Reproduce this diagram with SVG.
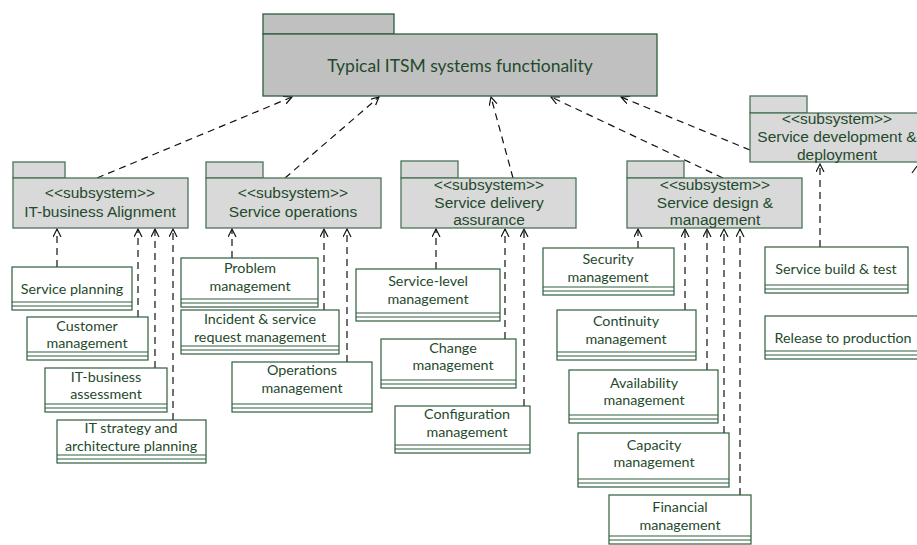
<svg xmlns="http://www.w3.org/2000/svg" width="917" height="545" viewBox="0 0 917 545">
<style>
.pkg{fill:#c0c0c0;stroke:#2e5e3e;stroke-width:1.3}
.sub{fill:#d9d9d9;stroke:#4a7358;stroke-width:1.3}
.box{fill:#fff;stroke:#2e5e3e;stroke-width:1.2}
.bl{stroke:#2e5e3e;stroke-width:1.1;fill:none}
.t{font-family:Lato,"Open Sans",sans-serif;font-size:14.3px;fill:#1f4a2c;text-anchor:middle}
.st{font-family:"Liberation Sans",Arial,sans-serif;font-size:15.5px;fill:#1f4a2c;text-anchor:middle}
.title{font-family:Lato,"Open Sans",sans-serif;font-size:17.5px;fill:#1f4a2c;text-anchor:middle}
.c{stroke:#111;stroke-width:1.2;fill:none;stroke-dasharray:7 5;marker-end:url(#ah)}
</style>
<defs>
<marker id="ah" markerWidth="10" markerHeight="10" refX="8" refY="4" orient="auto" markerUnits="userSpaceOnUse">
<path d="M0,0 L8,4 L0,8" fill="none" stroke="#111" stroke-width="1.2"/>
</marker>
</defs>

<g id="connectors">
<line class="c" x1="97" y1="178" x2="292" y2="97"/>
<line class="c" x1="285" y1="178" x2="379" y2="97"/>
<line class="c" x1="513" y1="178" x2="491" y2="97"/>
<line class="c" x1="723" y1="178" x2="551" y2="97"/>
<line class="c" x1="750" y1="150" x2="621" y2="97"/>
<line class="c" x1="57" y1="267" x2="57" y2="229"/>
<line class="c" x1="138" y1="317" x2="138" y2="229"/>
<line class="c" x1="155" y1="368" x2="155" y2="229"/>
<line class="c" x1="173" y1="420" x2="173" y2="229"/>
<line class="c" x1="232" y1="258" x2="232" y2="229"/>
<line class="c" x1="324" y1="310" x2="324" y2="229"/>
<line class="c" x1="347" y1="362" x2="347" y2="229"/>
<line class="c" x1="436" y1="269" x2="436" y2="229"/>
<line class="c" x1="505" y1="339" x2="505" y2="229"/>
<line class="c" x1="524" y1="406" x2="524" y2="229"/>
<line class="c" x1="638" y1="248" x2="638" y2="229"/>
<line class="c" x1="685" y1="310" x2="685" y2="229"/>
<line class="c" x1="707" y1="370" x2="707" y2="229"/>
<line class="c" x1="724" y1="433" x2="724" y2="229"/>
<line class="c" x1="740" y1="495" x2="740" y2="229"/>
<line class="c" x1="820" y1="247" x2="820" y2="164"/>
<line x1="912" y1="173" x2="917" y2="166" stroke="#111" stroke-width="1.2"/>
</g>

<g id="itsm">
<rect class="pkg" x="263" y="14" width="131" height="20"/>
<rect class="pkg" x="263" y="34" width="394" height="62"/>
<text class="title" x="460" y="72">Typical ITSM systems functionality</text>
</g>

<g id="sub-alignment">
<rect class="sub" x="13" y="162" width="52" height="16"/>
<rect class="sub" x="13" y="178" width="175" height="50"/>
<text class="st" x="100" y="198">&lt;&lt;subsystem&gt;&gt;</text>
<text class="st" x="100" y="217">IT-business Alignment</text>
</g>

<g id="sub-operations">
<rect class="sub" x="206" y="162" width="57" height="16"/>
<rect class="sub" x="206" y="178" width="175" height="50"/>
<text class="st" x="293" y="198">&lt;&lt;subsystem&gt;&gt;</text>
<text class="st" x="293" y="217">Service operations</text>
</g>

<g id="sub-delivery">
<rect class="sub" x="401" y="161" width="57" height="17"/>
<rect class="sub" x="401" y="178" width="175" height="50"/>
<text class="st" x="489" y="190">&lt;&lt;subsystem&gt;&gt;</text>
<text class="st" x="489" y="208">Service delivery</text>
<text class="st" x="489" y="225">assurance</text>
</g>

<g id="sub-design">
<rect class="sub" x="627" y="161" width="57" height="17"/>
<rect class="sub" x="627" y="178" width="175" height="50"/>
<text class="st" x="715" y="190">&lt;&lt;subsystem&gt;&gt;</text>
<text class="st" x="715" y="208">Service design &amp;</text>
<text class="st" x="715" y="225">management</text>
</g>

<g id="sub-development">
<rect class="sub" x="750" y="96" width="57" height="17"/>
<rect class="sub" x="750" y="113" width="175" height="49"/>
<text class="st" x="837" y="124">&lt;&lt;subsystem&gt;&gt;</text>
<text class="st" x="837" y="142">Service development &amp;</text>
<text class="st" x="837" y="160">deployment</text>
</g>

<g id="service-planning">
<rect class="box" x="12" y="267" width="120" height="43"/>
<path class="bl" d="M12,302H132M12,306H132"/>
<text class="t" x="72" y="294">Service planning</text>
</g>
<g id="customer-management">
<rect class="box" x="27" y="317" width="121" height="43"/>
<path class="bl" d="M27,352H148M27,356H148"/>
<text class="t" x="87" y="331">Customer</text>
<text class="t" x="87" y="348">management</text>
</g>
<g id="it-business-assessment">
<rect class="box" x="45" y="368" width="122" height="44"/>
<path class="bl" d="M45,404H167M45,408H167"/>
<text class="t" x="106" y="382">IT-business</text>
<text class="t" x="106" y="399">assessment</text>
</g>
<g id="it-strategy">
<rect class="box" x="57" y="420" width="149" height="43"/>
<path class="bl" d="M57,455H206M57,459H206"/>
<text class="t" x="131" y="433">IT strategy and</text>
<text class="t" x="131" y="451">architecture planning</text>
</g>

<g id="problem-management">
<rect class="box" x="181" y="258" width="137" height="49"/>
<path class="bl" d="M181,299H318M181,303H318"/>
<text class="t" x="250" y="273">Problem</text>
<text class="t" x="250" y="291">management</text>
</g>
<g id="incident-management">
<rect class="box" x="181" y="310" width="158" height="44"/>
<path class="bl" d="M181,346H339M181,350H339"/>
<text class="t" x="260" y="324">Incident &amp; service</text>
<text class="t" x="260" y="342">request management</text>
</g>
<g id="operations-management">
<rect class="box" x="232" y="362" width="140" height="50"/>
<path class="bl" d="M232,404H372M232,408H372"/>
<text class="t" x="302" y="375">Operations</text>
<text class="t" x="302" y="393">management</text>
</g>

<g id="service-level-management">
<rect class="box" x="356" y="269" width="144" height="52"/>
<path class="bl" d="M356,313H500M356,317H500"/>
<text class="t" x="428" y="286">Service-level</text>
<text class="t" x="428" y="304">management</text>
</g>
<g id="change-management">
<rect class="box" x="381" y="339" width="135" height="49"/>
<path class="bl" d="M381,380H516M381,384H516"/>
<text class="t" x="453" y="353">Change</text>
<text class="t" x="453" y="370">management</text>
</g>
<g id="configuration-management">
<rect class="box" x="395" y="406" width="135" height="47"/>
<path class="bl" d="M395,445H530M395,449H530"/>
<text class="t" x="467" y="419">Configuration</text>
<text class="t" x="467" y="437">management</text>
</g>

<g id="security-management">
<rect class="box" x="543" y="248" width="131" height="47"/>
<path class="bl" d="M543,287H674M543,291H674"/>
<text class="t" x="608" y="264">Security</text>
<text class="t" x="608" y="282">management</text>
</g>
<g id="continuity-management">
<rect class="box" x="557" y="310" width="139" height="50"/>
<path class="bl" d="M557,352H696M557,356H696"/>
<text class="t" x="626" y="326">Continuity</text>
<text class="t" x="626" y="344">management</text>
</g>
<g id="availability-management">
<rect class="box" x="569" y="370" width="149" height="53"/>
<path class="bl" d="M569,415H718M569,419H718"/>
<text class="t" x="644" y="388">Availability</text>
<text class="t" x="644" y="405">management</text>
</g>
<g id="capacity-management">
<rect class="box" x="578" y="433" width="151" height="54"/>
<path class="bl" d="M578,479H729M578,483H729"/>
<text class="t" x="654" y="450">Capacity</text>
<text class="t" x="654" y="467">management</text>
</g>
<g id="financial-management">
<rect class="box" x="609" y="495" width="142" height="49"/>
<path class="bl" d="M609,536H751M609,540H751"/>
<text class="t" x="680" y="512">Financial</text>
<text class="t" x="680" y="530">management</text>
</g>

<g id="service-build-test">
<rect class="box" x="765" y="247" width="143" height="46"/>
<path class="bl" d="M765,285H908M765,289H908"/>
<text class="t" x="836" y="274">Service build &amp; test</text>
</g>
<g id="release-to-production">
<rect class="box" x="765" y="316" width="160" height="43"/>
<path class="bl" d="M765,351H925M765,355H925"/>
<text class="t" x="843" y="343">Release to production</text>
</g>
</svg>
